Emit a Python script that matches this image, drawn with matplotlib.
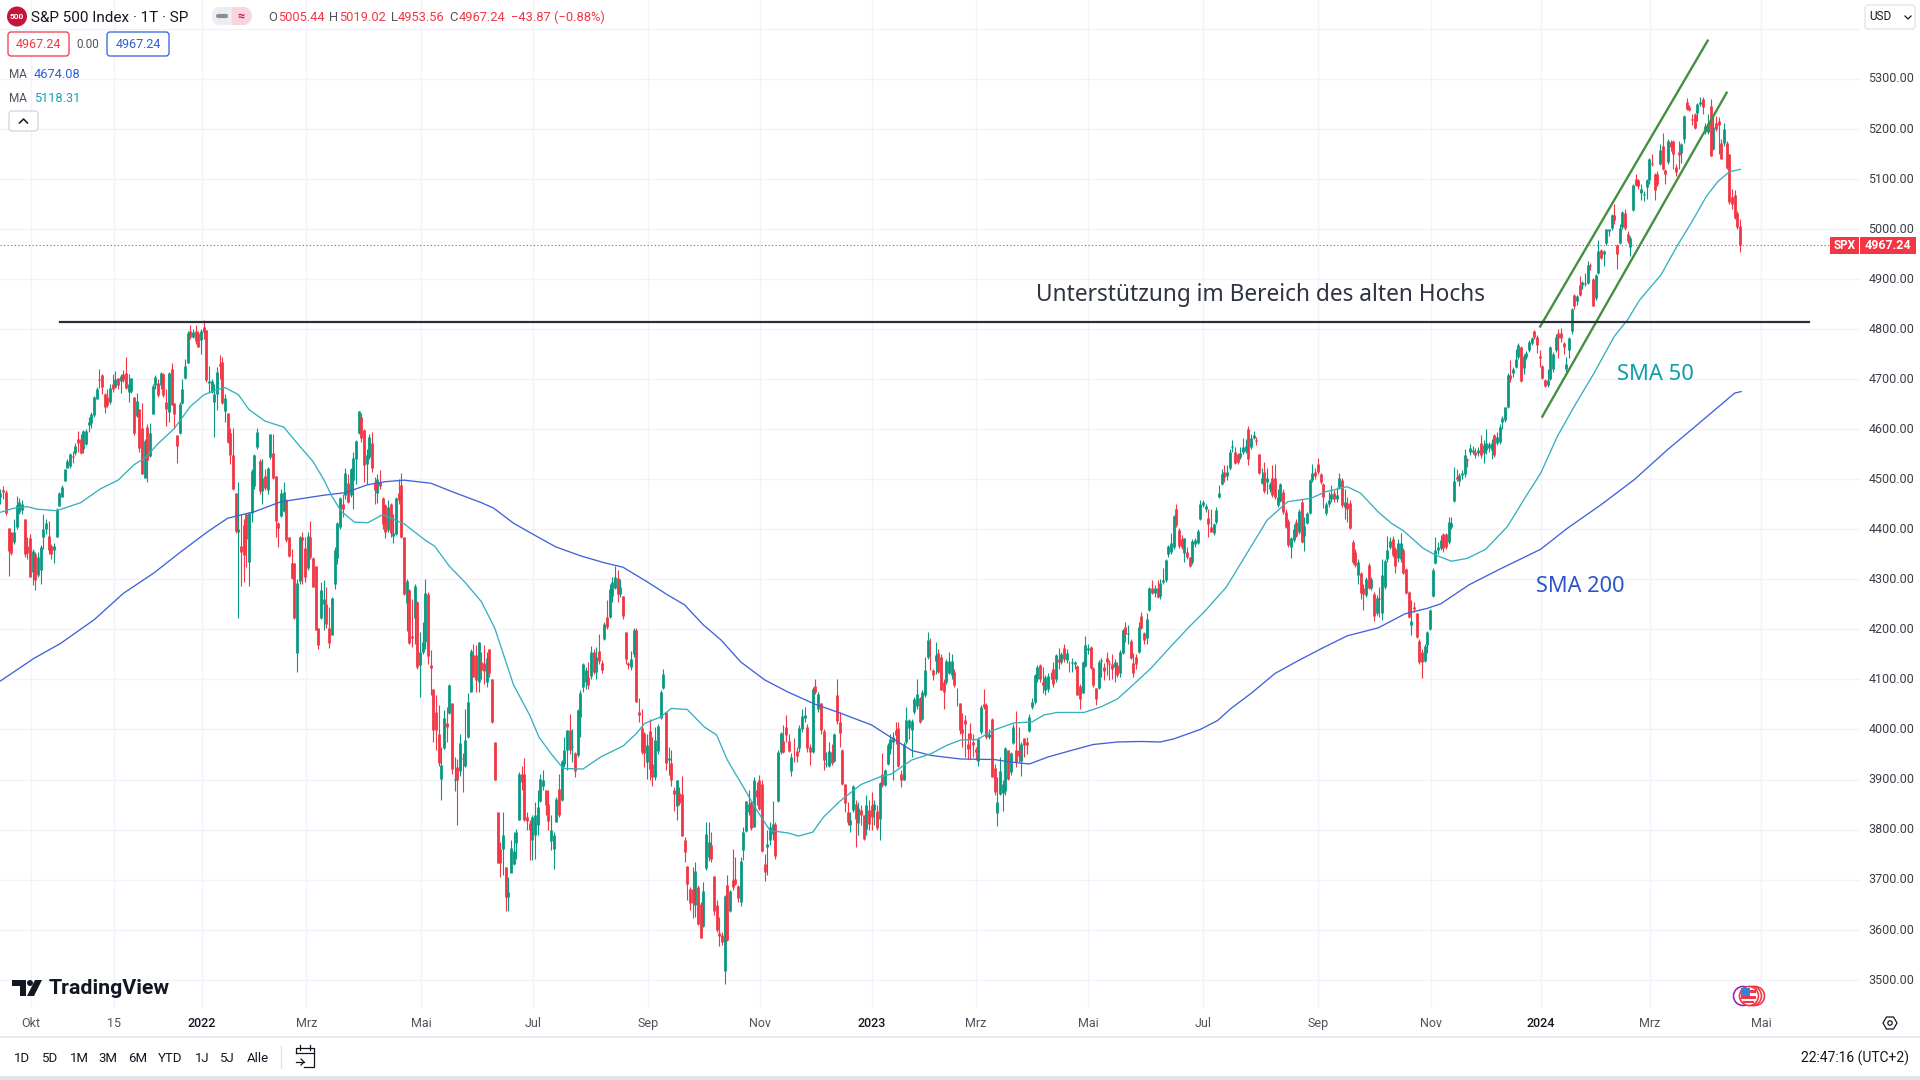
import numpy as np
import matplotlib
matplotlib.use("Agg")
import matplotlib.pyplot as plt
from matplotlib.patches import Circle, FancyBboxPatch, Polygon, Rectangle
from matplotlib.transforms import ScaledTranslation

# Each row: open, close, high, low
bars_late_2021 = [
(4465,4472,4480,4450),(4478,4475,4487,4460),(4475,4432,4478,4429),(4402,4357,4402,4307),(4395,4352,4395,4349),
(4375,4395,4420,4370),(4405,4448,4466,4400),(4435,4455,4462,4430),(4438,4450,4458,4430),(4420,4350,4420,4345),
(4366,4352,4385,4340),(4382,4305,4390,4305),(4315,4357,4360,4288),(4350,4298,4354,4278),(4308,4345,4355,4305),
(4318,4365,4368,4290),(4384,4400,4430,4360),(4400,4412,4420,4390),(4387,4358,4417,4350),(4367,4350,4370,4340),
(4358,4366,4372,4332),(4385,4440,4442,4385),(4447,4473,4475,4446),(4465,4485,4489,4465),(4497,4520,4521,4496),
(4523,4537,4541,4522),(4527,4550,4552,4522),(4546,4544,4556,4533),(4553,4567,4572,4548),(4580,4572,4597,4555),
(4581,4552,4590,4550),(4561,4597,4599,4552),(4571,4597,4600,4568),(4608,4615,4625,4595),(4613,4630,4635,4603),
(4629,4664,4666,4625),(4661,4680,4685,4660),(4701,4699,4720,4682),(4709,4684,4710,4670),(4671,4645,4673,4632),
(4665,4649,4680,4645),(4654,4683,4690,4650),(4691,4680,4710,4675),(4684,4700,4717,4682),(4702,4688,4703,4680),
(4696,4707,4710,4673),(4711,4699,4719,4695),(4712,4683,4744,4680),(4675,4691,4710,4655),(4677,4702,4703,4672),
(4664,4593,4664,4588),(4627,4656,4673,4625),(4640,4562,4640,4555),(4602,4511,4652,4510),(4503,4576,4580,4502),
(4605,4538,4610,4495),(4547,4592,4613,4545),(4631,4687,4690,4630),(4689,4704,4708,4680),(4693,4668,4700,4665),
(4689,4712,4715,4680),(4711,4669,4712,4665),(4655,4640,4680,4607),(4635,4712,4715,4615),(4721,4649,4733,4648),
(4652,4630,4652,4602),(4589,4567,4589,4532),(4592,4651,4655,4590),(4653,4680,4700,4650),(4703,4726,4740,4700),
(4733,4792,4795,4733),(4795,4785,4808,4780),(4785,4793,4800,4782),(4795,4777,4808,4770),(4792,4765,4795,4765),
]
bars_2022_h1 = [
(4778,4796,4800,4750),(4804,4793,4818,4780),(4797,4699,4797,4695),(4693,4697,4727,4672),(4675,4697,4700,4672),
(4655,4670,4690,4584),(4670,4714,4725,4639),(4730,4726,4749,4700),(4735,4652,4745,4650),(4637,4662,4670,4615),
(4632,4575,4632,4572),(4592,4549,4602,4530),(4549,4480,4602,4478),(4472,4397,4472,4392),(4395,4400,4495,4223),
(4367,4355,4430,4287),(4408,4349,4420,4295),(4430,4380,4432,4325),(4335,4432,4435,4287),(4432,4517,4520,4415),
(4486,4548,4550,4480),(4565,4595,4603,4560),(4537,4477,4540,4470),(4477,4502,4540,4450),(4507,4482,4520,4478),
(4478,4522,4525,4470),(4545,4590,4590,4540),(4553,4503,4590,4500),(4507,4417,4507,4385),(4413,4402,4414,4365),
(4427,4472,4480,4425),(4437,4475,4495,4435),(4458,4378,4460,4375),(4384,4347,4385,4345),(4332,4302,4360,4300),
(4332,4222,4333,4220),(4153,4292,4300,4115),(4297,4384,4386,4290),(4385,4378,4395,4290),(4362,4305,4385,4295),
(4322,4387,4395,4318),(4384,4345,4416,4340),(4342,4285,4345,4285),(4327,4198,4327,4198),(4202,4169,4203,4160),
(4222,4278,4295,4220),(4250,4260,4298,4198),(4250,4210,4285,4203),(4202,4172,4245,4162),(4188,4262,4265,4188),
(4290,4358,4365,4280),(4342,4412,4415,4330),(4405,4462,4465,4400),(4450,4440,4470,4425),(4468,4512,4522,4460),
(4493,4455,4510,4452),(4468,4520,4523,4465),(4498,4542,4555,4440),(4540,4577,4578,4490),(4592,4637,4637,4590),
(4625,4582,4632,4575),(4598,4529,4600,4495),(4530,4549,4560,4490),(4545,4584,4590,4540),(4572,4522,4595,4515),
(4495,4478,4505,4450),(4472,4500,4510,4452),(4495,4487,4518,4480),(4462,4410,4465,4400),(4448,4395,4450,4382),
(4398,4445,4458,4395),(4450,4392,4452,4385),(4386,4392,4430,4372),(4390,4462,4465,4388),(4473,4459,4500,4450),
(4488,4385,4512,4383),(4385,4270,4385,4268),(4253,4297,4300,4197),(4278,4173,4280,4170),(4187,4183,4260,4165),
(4222,4287,4290,4170),(4255,4125,4257,4120),(4128,4155,4195,4065),(4155,4175,4215,4150),(4175,4272,4300,4160),
(4271,4146,4275,4130),(4129,4122,4158,4068),(4081,3999,4081,3975),(4035,3999,4068,3958),(3991,3933,4048,3928),
(3902,3929,3965,3859),(3962,4022,4039,3960),(4012,4005,4045,3975),(4032,4088,4090,4030),(4052,3922,4052,3912),
(3900,3901,3945,3877),(3925,3900,3942,3810),(3917,3972,3990,3908),(3943,3942,3953,3875),(3927,3978,4040,3925),
(3984,4055,4072,3983),(4075,4157,4160,4075),(4149,4105,4170,4105),(4149,4098,4168,4075),
]
bars_2022_h2 = [
(4095,4175,4175,4075),(4135,4119,4155,4100),(4133,4117,4168,4090),(4095,4142,4155,4085),(4160,4112,4161,4105),
(4100,4015,4101,4012),(3974,3900,3974,3900),(3835,3733,3835,3733),(3762,3733,3775,3705),(3762,3789,3835,3710),
(3725,3665,3725,3638),(3665,3675,3705,3637),(3714,3764,3779,3715),(3732,3758,3795,3730),(3773,3795,3802,3742),
(3820,3912,3915,3820),(3912,3895,3927,3880),(3912,3819,3944,3818),(3825,3817,3835,3800),(3814,3800,3820,3740),
(3780,3825,3830,3740),(3790,3830,3855,3742),(3810,3845,3880,3790),(3857,3902,3911,3855),(3887,3899,3919,3880),
(3880,3850,3880,3830),(3851,3817,3880,3800),(3778,3800,3830,3760),(3762,3789,3795,3722),(3815,3862,3865,3815),
(3882,3829,3912,3825),(3859,3938,3940,3858),(3932,3958,3985,3925),(3958,3998,3999,3920),(3998,3958,4030,3950),
(3965,3967,4000,3935),(3952,3918,3955,3905),(3949,4039,4040,3945),(4025,4073,4078,3985),(4085,4130,4133,4075),
(4095,4118,4125,4080),(4105,4089,4135,4080),(4107,4155,4167,4100),(4155,4115,4160,4110),(4115,4145,4165,4100),
(4157,4137,4190,4130),(4133,4119,4138,4112),(4180,4211,4215,4178),(4225,4204,4258,4200),(4224,4280,4290,4222),
(4267,4295,4305,4255),(4282,4304,4327,4280),(4302,4270,4318,4255),(4270,4284,4300,4265),(4267,4227,4267,4220),
(4195,4140,4195,4130),(4133,4128,4135,4120),(4125,4141,4157,4118),(4150,4199,4202,4145),(4199,4055,4202,4055),
(4035,4029,4062,4015),(4002,3955,4040,3950),(3992,3953,3995,3925),(3935,3968,3990,3902),(3996,3922,4020,3900),
(3932,3905,3985,3888),(3905,3978,4005,3900),(3957,4007,4010,3950),(4022,4075,4078,4020),(4082,4110,4120,4080),
(4035,3933,4035,3920),(3940,3944,3965,3910),(3933,3899,3958,3888),(3880,3872,3885,3837),(3848,3899,3900,3820),
(3873,3853,3885,3850),(3871,3787,3907,3787),(3780,3755,3785,3735),(3727,3691,3727,3660),(3682,3653,3685,3640),
(3682,3653,3725,3624),(3649,3718,3735,3625),(3685,3612,3690,3610),(3652,3584,3655,3583),(3607,3677,3695,3605),
(3724,3791,3815,3720),(3745,3775,3815,3738),(3770,3742,3795,3735),(3707,3638,3707,3630),(3649,3600,3660,3595),
(3594,3587,3625,3567),(3590,3575,3595,3570),(3517,3668,3670,3492),(3689,3580,3710,3578),(3637,3677,3680,3635),
(3700,3685,3762,3680),(3702,3692,3745,3690),(3688,3664,3690,3655),(3655,3737,3745,3648),(3760,3795,3805,3740),
(3797,3858,3858,3795),(3835,3852,3880,3830),(3855,3804,3857,3800),(3805,3900,3905,3805),(3879,3865,3895,3850),
(3900,3842,3910,3840),(3892,3757,3900,3755),(3732,3715,3752,3697),(3766,3772,3800,3710),(3780,3806,3815,3770),
(3792,3812,3858,3780),(3811,3747,3815,3742),(3857,3955,3958,3855),(3955,3992,3995,3950),(3977,3955,4008,3953),
(4005,3989,4028,3975),(3977,3956,3990,3955),(3917,3945,3953,3907),(3967,3966,3982,3935),(3957,3947,3965,3935),
(3962,4003,4008,3955),(4000,4027,4040,3995),(4022,4028,4045,4015),(4005,3962,4010,3955),(3965,3955,3970,3930),
(3955,4080,4085,3952),(4086,4075,4100,4070),(4040,4071,4075,4035),(4052,3998,4053,3990),(3997,3940,4000,3920),
(3931,3933,3955,3925),(3928,3957,3975,3925),(3955,3933,3970,3930),(3937,3990,3992,3935),(4069,4017,4100,4010),
(4015,3992,4035,3965),(3959,3892,3960,3890),(3891,3853,3891,3835),(3835,3815,3855,3810),(3809,3820,3835,3795),
(3839,3887,3890,3835),(3852,3822,3860,3765),(3813,3844,3855,3790),(3840,3830,3850,3810),(3829,3782,3830,3780),
(3802,3849,3870,3790),(3839,3812,3860,3800),(3849,3825,3875,3800),(3839,3852,3860,3810),(3838,3804,3850,3800),
(3822,3893,3895,3780),(3911,3889,3952,3885),(3889,3919,3921,3888),(3932,3969,3972,3930),(3960,3980,3990,3950),
(3975,3985,3995,3900),(3998,3989,4015,3970),(4002,3928,4015,3925),(3911,3899,3920,3885),(3900,3971,3975,3899),
(3975,4018,4045,3970),(4002,4018,4020,3980),(3998,4017,4020,3945),(4035,4060,4065,4030),(4047,4071,4100,4040),
(4062,4015,4065,4012),(4020,4075,4078,4018),(4068,4118,4145,4065),(4145,4178,4195,4140),(4137,4136,4182,4118),
(4118,4108,4120,4098),(4137,4148,4175,4110),(4153,4115,4160,4112),(4144,4079,4150,4078),(4095,4075,4100,4040),
(4095,4137,4140,4090),(4113,4137,4155,4110),(4108,4137,4150,4100),(4115,4089,4120,4085),(4078,4079,4082,4047),
]
bars_2023_h1 = [
(4052,3999,4052,3990),(4000,3992,4032,3965),(4018,4010,4028,3945),(3970,3960,3992,3942),(3992,3980,4013,3942),
(3975,3968,3990,3945),(3960,3955,3965,3940),(3937,3980,3985,3928),(3995,4045,4048,3990),(4050,4045,4080,4040),
(4049,3985,4052,3980),(3985,3990,4000,3980),(4020,3905,4023,3905),(3923,3875,3932,3870),(3833,3855,3905,3808),
(3872,3918,3945,3870),(3873,3892,3900,3837),(3877,3962,3965,3870),(3958,3902,3958,3900),(3915,3952,3955,3910),
(3972,4004,4010,3970),(3958,3935,4037,3925),(3958,3947,4005,3935),(3937,3970,3975,3908),(3982,3968,3983,3945),
(3975,3968,3985,3950),(3997,4025,4030,3995),(4045,4055,4062,4040),(4055,4108,4110,4050),(4100,4125,4128,4095),
(4128,4100,4130,4095),(4095,4089,4125,4073),(4078,4105,4108,4068),(4080,4107,4112,4075),(4109,4108,4115,4100),
(4120,4090,4135,4085),(4100,4148,4150,4095),(4140,4135,4162,4120),(4135,4150,4155,4130),(4162,4140,4170,4135),
(4138,4153,4160,4132),(4131,4130,4137,4115),(4132,4135,4142,4115),(4130,4135,4137,4120),(4127,4069,4128,4068),
(4087,4060,4090,4040),(4073,4134,4137,4072),(4127,4168,4187,4125),(4158,4163,4170,4150),(4165,4122,4167,4120),
(4122,4089,4125,4085),(4082,4060,4083,4048),(4083,4135,4138,4081),(4137,4139,4142,4105),(4124,4117,4132,4098),
(4142,4135,4155,4108),(4132,4131,4138,4098),(4130,4120,4150,4100),(4125,4135,4140,4095),(4129,4108,4135,4105),
(4112,4155,4158,4105),(4153,4199,4200,4150),(4205,4190,4215,4175),(4190,4192,4208,4170),(4177,4143,4180,4140),
(4132,4113,4152,4105),(4145,4130,4150,4120),(4155,4205,4215,4152),(4227,4202,4235,4200),(4192,4179,4195,4170),
(4182,4220,4232,4170),(4238,4282,4285,4236),(4282,4273,4298,4270),(4273,4283,4288,4265),(4283,4265,4298,4262),
(4267,4293,4300,4260),(4295,4298,4322,4290),(4298,4338,4340,4295),(4350,4366,4368,4345),(4355,4372,4392,4350),
(4364,4426,4428,4360),(4440,4409,4450,4405),(4399,4367,4402,4362),(4380,4365,4388,4360),(4353,4382,4383,4335),
(4355,4344,4365,4340),(4344,4327,4345,4325),(4335,4377,4380,4330),(4371,4378,4382,4365),(4373,4397,4400,4370),
]
bars_2023_h2 = [
(4420,4451,4458,4418),(4449,4455,4458,4445),(4440,4447,4450,4435),(4422,4411,4440,4385),(4405,4395,4440,4395),
(4392,4411,4412,4388),(4415,4438,4445,4410),(4465,4472,4488,4462),(4491,4511,4520,4488),(4515,4505,4528,4495),
(4507,4515,4528,4498),(4522,4555,4560,4518),(4564,4566,4578,4555),(4555,4533,4565,4530),(4550,4535,4552,4530),
(4544,4553,4565,4540),(4555,4565,4582,4550),(4557,4567,4580,4552),(4600,4540,4607,4528),(4565,4582,4590,4560),
(4582,4588,4597,4580),(4578,4576,4585,4568),(4551,4512,4551,4510),(4492,4502,4522,4490),(4515,4477,4535,4472),
(4495,4502,4522,4470),(4480,4490,4495,4475),(4502,4469,4528,4465),(4502,4465,4530,4460),(4449,4465,4480,4445),
(4457,4490,4492,4455),(4475,4435,4480,4430),(4435,4404,4440,4402),(4417,4368,4420,4365),(4365,4382,4385,4342),
(4379,4400,4410,4375),(4415,4387,4420,4385),(4395,4437,4440,4390),(4455,4375,4460,4373),(4387,4407,4425,4357),
(4413,4432,4435,4410),(4432,4499,4500,4430),(4499,4513,4530,4495),(4515,4507,4522,4500),(4530,4515,4542,4510),
(4510,4495,4512,4490),(4490,4465,4492,4442),(4432,4450,4455,4428),(4450,4458,4475,4445),(4460,4470,4488,4455),
(4472,4460,4478,4455),(4460,4469,4485,4455),(4485,4502,4512,4480),(4499,4449,4502,4445),(4444,4455,4480,4420),
(4452,4440,4465,4415),(4452,4402,4458,4400),(4375,4335,4378,4330),(4355,4329,4360,4325),(4308,4335,4340,4290),
(4312,4272,4315,4260),(4282,4271,4290,4238),(4269,4300,4305,4265),(4329,4282,4332,4280),(4282,4300,4305,4278),
(4270,4227,4275,4217),(4233,4263,4268,4228),(4262,4260,4285,4225),(4232,4308,4340,4218),(4284,4337,4340,4280),
(4340,4358,4387,4335),(4364,4377,4385,4360),(4380,4349,4387,4345),(4360,4327,4365,4313),(4342,4372,4380,4335),
(4340,4373,4393,4335),(4358,4313,4362,4310),(4320,4272,4322,4270),(4275,4224,4277,4222),(4209,4217,4258,4189),
(4245,4240,4255,4235),(4232,4184,4233,4182),(4177,4135,4180,4130),(4155,4135,4160,4103),(4137,4167,4170,4135),
(4169,4194,4197,4153),(4200,4238,4240,4198),(4267,4319,4322,4265),(4333,4358,4385,4330),(4358,4365,4375,4350),
(4362,4378,4388,4358),(4390,4362,4392,4355),(4391,4365,4392,4360),(4375,4415,4425,4370),(4404,4412,4425,4400),
(4457,4497,4525,4455),(4505,4500,4520,4497),(4497,4508,4512,4487),(4508,4512,4518,4500),(4510,4548,4560,4505),
(4540,4538,4542,4525),(4555,4562,4570,4548),(4555,4559,4567,4550),(4555,4548,4562,4542),(4552,4558,4565,4547),
(4572,4548,4589,4543),(4552,4568,4578,4533),(4558,4572,4600,4550),(4562,4570,4575,4555),(4558,4572,4580,4540),
(4589,4548,4590,4545),(4573,4585,4595,4568),(4575,4604,4610,4570),(4615,4622,4627,4600),(4618,4644,4645,4615),
(4645,4709,4712,4643),(4708,4700,4738,4695),(4712,4720,4725,4705),(4725,4740,4760,4722),(4744,4768,4772,4740),
(4764,4697,4766,4695),(4722,4747,4750,4710),(4745,4752,4756,4740),(4759,4774,4778,4755),(4772,4782,4785,4768),
]
bars_2024 = [
(4795,4785,4798,4780),(4785,4769,4787,4753),(4747,4742,4758,4724),(4727,4702,4728,4700),(4698,4687,4700,4685),
(4689,4698,4720,4684),(4700,4765,4767,4698),(4720,4750,4755,4715),(4759,4785,4790,4755),(4792,4782,4800,4742),
(4792,4782,4802,4775),(4772,4765,4775,4750),(4720,4730,4745,4715),(4759,4782,4785,4742),(4795,4840,4842,4790),
(4868,4845,4870,4840),(4855,4865,4868,4848),(4888,4867,4905,4865),(4888,4893,4895,4880),(4890,4892,4912,4885),
(4892,4928,4935,4890),(4928,4925,4932,4918),(4900,4845,4902,4845),(4862,4907,4910,4858),(4912,4955,4978,4910),
(4958,4942,4960,4940),(4950,4955,4958,4925),(4971,4999,5000,4968),(4995,4999,5000,4985),(5001,5027,5030,4998),
(5027,5018,5049,5010),(4968,4950,4970,4920),(4972,5002,5010,4970),(5004,5033,5035,5000),(5032,5001,5039,4998),
(4990,4975,4995,4972),(4964,4982,4985,4945),(5037,5087,5090,5035),(5100,5087,5110,5085),(5097,5085,5100,5080),
(5072,5079,5090,5058),(5067,5070,5075,5055),(5084,5097,5100,5060),(5097,5140,5142,5090),(5132,5130,5150,5125),
(5110,5077,5112,5058),(5110,5090,5115,5085),(5130,5157,5170,5128),(5165,5120,5192,5118),(5117,5110,5120,5090),
(5134,5176,5180,5130),(5174,5164,5178,5155),(5176,5150,5178,5120),(5124,5114,5130,5105),(5154,5147,5175,5120),
(5151,5170,5172,5132),(5179,5225,5228,5172),(5254,5240,5261,5238),(5244,5237,5247,5235),(5219,5218,5230,5208),
(5229,5202,5232,5200),(5231,5249,5252,5215),(5250,5254,5264,5245),(5259,5243,5263,5230),(5194,5205,5212,5190),
(5194,5212,5229,5190),(5245,5145,5260,5145),(5160,5204,5225,5158),(5211,5200,5225,5195),(5216,5207,5224,5150),
(5171,5140,5180,5140),(5171,5199,5211,5165),(5171,5121,5176,5120),(5149,5054,5150,5050),(5064,5049,5079,5040),
(5067,5021,5077,5020),(5031,5004,5035,5000),(5005,4967,5019,4954),
]

sma200_bar = [0,12.5,22.5,35,46,57.5,67.5,77.5,85,95,105,112.5,121,129,137.5,144,151,161,170,180,184.6,192,199.6,207.7,217,226,233,242,249.6,256,263,269.6,277,286,294.6,304.6,314.6,326,333,341,348.4,354.6,359.3,371.8,378,385,392,402,409,418,427,434,439,449,455.5,460.5,468,477,485.5,495.6,504,515.6,525.6,534,539,549.6,561,576.4,586.4,599,611.4,623.9,636.4,649,651.4]
sma200_val = [4097,4142,4172,4219,4272,4313,4355,4395,4422,4435,4455,4461,4468,4473,4489,4495,4498,4492,4473,4453,4442,4412,4389,4365,4347,4333,4324,4295,4269,4249,4209,4179,4135,4099,4075,4051,4032,4009,3985,3958,3948,3944,3941,3940,3935,3931,3945,3960,3970,3975,3976,3975,3981,4000,4018,4042,4072,4112,4137,4165,4187,4203,4231,4242,4251,4289,4320,4360,4402,4449,4499,4559,4615,4672,4675]
sma50_bar = [0,5,10,13.8,21,30,37.5,44,50,54,59,65,71,76,80,84,89,93,99,106,111,117,121,124,127.5,132.5,137.5,143,151,159,162.5,168,174,180,185,192,198,201.5,206,210.6,218,224.6,233,238,241,247,251,257,263.4,268,272,278,283,288,295,298.6,304,308,314,322,329,333.4,341,348.4,354,359.3,365.6,371.8,379.3,386,390.5,395.5,405.5,411.8,418,423,430.5,436.8,444.3,450.5,458.7,465,474,481.7,490.5,496,504,509,515.5,520.5,525,532.4,536.8,543,549,555.8,563.9,570.8,576.4,582.6,588.9,596.4,603.9,609,613.3,621.4,627.6,633.3,638.3,642.6,647,651.1]
sma50_val = [4434,4442,4445,4440,4437,4453,4481,4498,4529,4542,4571,4601,4645,4668,4677,4683,4669,4639,4616,4604,4572,4535,4499,4466,4436,4414,4413,4429,4411,4378,4366,4326,4293,4255,4202,4089,4029,3985,3952,3922,3921,3945,3967,3992,4012,4025,4042,4040,4005,3989,3939,3885,3839,3798,3793,3787,3795,3825,3856,3890,3905,3911,3939,3952,3968,3979,3980,3999,4013,4015,4029,4034,4034,4045,4061,4085,4122,4159,4202,4235,4284,4339,4418,4455,4462,4475,4485,4472,4435,4412,4397,4362,4349,4336,4342,4360,4405,4465,4512,4585,4645,4712,4785,4819,4857,4908,4967,5017,5064,5094,5114,5119]

price_ticks = list(range(3500, 5500, 100))
price_labels = [f"{p}.00" if p < 5400 else "" for p in price_ticks]
time_ticks = [11.4, 42.5, 75.4, 114.5, 157.4, 199.2, 242.3, 284.2, 326.2, 365, 407, 450, 493, 535.3, 576.4, 617.3, 659]
time_labels = ["Okt","15","2022","Mrz","Mai","Jul","Sep","Nov","2023","Mrz","Mai","Jul","Sep","Nov","2024","Mrz","Mai"]
support_level = 4813
channel_upper = ([576.2, 638.9], [4805, 5376])
channel_lower = ([577.0, 646.0], [4625, 5272])
last_close = 4967.24

rows = np.array(bars_late_2021 + bars_2022_h1 + bars_2022_h2 + bars_2023_h1 + bars_2023_h2 + bars_2024, float)
opens, closes, highs, lows = rows.T
bar = np.arange(len(rows))

GREEN, RED = "#089981", "#F23645"
TEAL, BLUE = "#35B0BD", "#3F62D9"
INK, GREY = "#131722", "#50535E"
GRID = "#F0F3FA"

plt.rcParams["font.family"] = ["Roboto", "DejaVu Sans"]
fig = plt.figure(figsize=(19.2, 10.8), dpi=100, facecolor="white")
W, H = 1920, 1080
ax = fig.add_axes([0, (H - 1009) / H, 1860 / W, 1009 / H])
ax.set_xlim(-0.187, 695.9)
ax.set_ylim(3441.6, 5457.2)
for s in ax.spines.values():
    s.set_visible(False)
ax.set_yticks(price_ticks, price_labels)
ax.set_xticks(time_ticks, time_labels)
ax.yaxis.tick_right()
ax.tick_params(axis="both", length=0)
ax.tick_params(axis="y", pad=6, labelsize=9, labelcolor="#3A3D47")
ax.tick_params(axis="x", pad=6, labelsize=9, labelcolor=GREY)
for lab in ax.get_xticklabels():
    if lab.get_text().startswith("20"):
        lab.set_color(INK)
        lab.set_fontweight("medium")
lift = ScaledTranslation(0, 1.2 / 100, fig.dpi_scale_trans)
for lab in ax.get_yticklabels():
    lab.set_transform(lab.get_transform() + lift)
ax.grid(True, color=GRID, lw=1.0)
ax.set_axisbelow(True)

up = closes >= opens
for mask, col in ((up, GREEN), (~up, RED)):
    ax.vlines(bar[mask], lows[mask], highs[mask], color=col, lw=0.8, zorder=3)
    ax.vlines(bar[mask], np.minimum(opens, closes)[mask], np.maximum(opens, closes)[mask], color=col, lw=2.0, zorder=3)

ax.plot(sma200_bar, sma200_val, color=BLUE, lw=0.95, zorder=4)
ax.plot(sma50_bar, sma50_val, color=TEAL, lw=0.95, zorder=4)
ax.plot(*channel_upper, color="#43903F", lw=1.7, zorder=5)
ax.plot(*channel_lower, color="#43903F", lw=1.7, zorder=5)
ax.plot([22.3, 677], [support_level, support_level], color="#2A2E39", lw=1.6, zorder=5)
ax.axhline(last_close, color=RED, lw=0.8, ls=(0, (1, 2.2)), zorder=2)

# interface overlay in pixel coordinates
ui = fig.add_axes([0, 0, 1, 1], facecolor="none")
ui.set_xlim(0, W)
ui.set_ylim(H, 0)
ui.axis("off")

def t(x, y, s, size=9, color=INK, ha="left", weight="normal", **kw):
    ui.text(x, y, s, fontsize=size, color=color, ha=ha, va="center", fontweight=weight, **kw)

def box(x0, y0, x1, y1, ec, fc="white", lw=0.9, r=3):
    ui.add_patch(FancyBboxPatch((x0 + r, y0 + r), x1 - x0 - 2 * r, y1 - y0 - 2 * r,
                                boxstyle=f"round,pad={r},rounding_size={r}", ec=ec, fc=fc, lw=lw))

# annotations
t(1036, 295, "Unterstützung im Bereich des alten Hochs", size=16.35, color="#2F3342", family=["Noto Sans", "DejaVu Sans"])
t(1617, 375, "SMA 50", size=15.8, color="#0F9CAB", family=["Noto Sans", "DejaVu Sans"])
t(1536, 586, "SMA 200", size=15.7, color="#2D55C8", family=["Noto Sans", "DejaVu Sans"])

# header
ui.add_patch(Circle((17, 16.5), 10, fc="#C5163A", ec="none"))
t(17, 16.5, "500", size=6, color="white", ha="center", weight="bold")
t(31, 17.5, "S&P 500 Index · 1T · SP", size=11, color=INK)
box(212, 7, 251, 25, "none", fc="#EBEDF1", r=8)
ui.add_patch(Rectangle((232, 7), 12, 18, fc="#FBD5DE", ec="none"))
ui.add_patch(Circle((243, 16), 9, fc="#FBD5DE", ec="none"))
ui.plot([218, 226], [16, 16], color="#8A8D97", lw=3, solid_capstyle="round")
t(241, 16, "≈", size=9, color="#C2185B", ha="center", weight="bold")
for x, s in ((268, "O"), (329, "H"), (391, "L"), (449, "C")):
    t(x, 17.5, s, size=9.3, color=GREY)
for x, s in ((278, "5005.44"), (339, "5019.02"), (398, "4953.56"), (459, "4967.24"), (511, "−43.87 (−0.88%)")):
    t(x, 17.5, s, size=9.3, color=RED)
box(8, 32, 69, 56, RED)
t(38.5, 44.5, "4967.24", size=9, color=RED, ha="center")
t(88, 44.5, "0.00", size=8.5, color=GREY, ha="center")
box(107, 32, 169, 56, "#2F5FD9")
t(138, 44.5, "4967.24", size=9, color="#2F5FD9", ha="center")
t(9, 74, "MA", size=8.5, color=GREY)
t(34, 74, "4674.08", size=9.2, color="#2F5FD9")
t(9, 98, "MA", size=8.5, color=GREY)
t(34, 98, "5118.31", size=9.2, color="#15A2AD")
box(9, 111, 38, 131, "#D1D4DC")
ui.plot([19.5, 23.5, 27.5], [123, 119, 123], color=INK, lw=1.1)

# USD selector
box(1865, 5, 1915, 29, "#E0E3EB")
t(1869, 17, "USD", size=8.5, color=INK)
ui.plot([1905, 1908, 1911], [16, 19, 16], color=INK, lw=0.9)

# last price tags
ui.add_patch(Rectangle((1830, 237), 29, 17, fc=RED, ec="none"))
ui.add_patch(Rectangle((1860, 237), 56, 17, fc=RED, ec="none"))
t(1844.5, 245.5, "SPX", size=8.5, color="white", ha="center", weight="bold")
t(1888, 245.5, "4967.24", size=9, color="white", ha="center", weight="bold")

# TradingView mark
ui.add_patch(Polygon([(12, 980), (26, 980), (26, 996), (20, 996), (20, 986), (12, 986)], fc=INK, ec="none"))
ui.add_patch(Circle((30, 983), 3, fc=INK, ec="none"))
ui.add_patch(Polygon([(35, 980), (42, 980), (34, 996), (27, 996)], fc=INK, ec="none"))
t(49, 988, "TradingView", size=15.4, color=INK, weight="bold")

# event flag badges
ui.add_patch(Circle((1743, 996), 9.5, fc="white", ec="#9C27B0", lw=1.2))
for cx in (1755, 1752, 1749):
    ui.add_patch(Circle((cx, 996), 9.5, fc="white", ec=RED, lw=1.2))
ui.add_patch(Rectangle((1741, 990), 15, 3, fc=RED, ec="none"))
ui.add_patch(Rectangle((1741, 996), 15, 2.5, fc=RED, ec="none"))
ui.add_patch(Rectangle((1741, 988), 9, 8, fc="#2F86D9", ec="none"))
ui.add_patch(Rectangle((1743, 1001), 11, 2, fc=RED, ec="none"))

# settings hexagon
ui.add_patch(Polygon([(1883, 1023), (1886.5, 1017), (1893.5, 1017), (1897, 1023), (1893.5, 1029), (1886.5, 1029)], fc="white", ec=INK, lw=0.9))
ui.add_patch(Circle((1890, 1023), 2.2, fc="white", ec=INK, lw=0.9))

# bottom toolbar
ui.plot([0, W], [1037, 1037], color="#E0E3EB", lw=1.1)
ui.add_patch(Rectangle((0, 1076), W, 4, fc="#E0E3EB", ec="none"))
for x, s in ((22, "1D"), (50, "5D"), (79, "1M"), (108, "3M"), (137.5, "6M"), (170, "YTD"), (202, "1J"), (227, "5J"), (258, "Alle")):
    t(x, 1058, s, size=9.5, color=INK, ha="center")
ui.plot([281, 281], [1046, 1068], color="#E0E3EB", lw=1)
ui.plot([296, 296, 314, 314, 304], [1053, 1048, 1048, 1067, 1067], color=INK, lw=0.9)
ui.plot([296, 314], [1053, 1053], color=INK, lw=0.9)
ui.plot([300, 300], [1045, 1050], color=INK, lw=0.9)
ui.plot([310, 310], [1045, 1050], color=INK, lw=0.9)
ui.plot([296, 304], [1062, 1062], color=INK, lw=0.9)
ui.plot([301, 304, 301], [1059, 1062, 1065], color=INK, lw=0.9)
t(1909, 1058, "22:47:16 (UTC+2)", size=10, color=INK, ha="right")

fig.savefig("out.png", dpi=100, facecolor="white")
